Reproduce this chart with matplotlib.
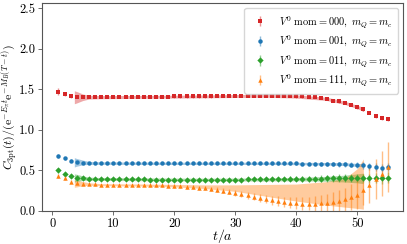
import numpy as np
import matplotlib
matplotlib.use("Agg")
import matplotlib.pyplot as plt

plt.rcParams["font.family"] = "serif"
plt.rcParams["font.serif"] = ["cmr10"]
plt.rcParams["mathtext.fontset"] = "cm"
plt.rcParams["axes.unicode_minus"] = False

# time slices
t = np.arange(1, 56)

# V0 mom = 000
red_y = [1.47, 1.44, 1.42, 1.40, 1.40, 1.40, 1.40, 1.40, 1.40, 1.40,
         1.40, 1.40, 1.40, 1.40, 1.405, 1.405, 1.405, 1.405, 1.405, 1.41,
         1.41, 1.41, 1.41, 1.41, 1.41, 1.41, 1.415, 1.415, 1.415, 1.415,
         1.415, 1.415, 1.42, 1.42, 1.42, 1.42, 1.42, 1.415, 1.415, 1.41,
         1.41, 1.405, 1.40, 1.39, 1.38, 1.36, 1.35, 1.33, 1.31, 1.28,
         1.25, 1.21, 1.17, 1.14, 1.13]
red_err = [0.04, 0.03, 0.025] + [0.015] * 40 + [0.016, 0.017, 0.018, 0.018,
           0.018, 0.018, 0.02, 0.02, 0.02, 0.02, 0.02, 0.02]

# V0 mom = 001
blue_y = [0.68, 0.645, 0.62, 0.605, 0.595, 0.59, 0.588, 0.587, 0.586, 0.586,
          0.585, 0.585, 0.585, 0.585, 0.585, 0.585, 0.585, 0.585, 0.585, 0.585,
          0.585, 0.585, 0.585, 0.585, 0.585, 0.585, 0.585, 0.585, 0.585, 0.585,
          0.585, 0.585, 0.585, 0.585, 0.585, 0.585, 0.585, 0.585, 0.585, 0.584,
          0.583, 0.582, 0.581, 0.58, 0.58, 0.578, 0.576, 0.574, 0.57, 0.566,
          0.56, 0.548, 0.538, 0.532, 0.535]
blue_err = [0.025, 0.02, 0.018] + [0.012] * 30 + [0.013, 0.014, 0.015, 0.016,
            0.017, 0.018, 0.019, 0.02, 0.021, 0.022, 0.024, 0.026, 0.028, 0.03,
            0.032, 0.034, 0.036, 0.04, 0.045, 0.048, 0.05, 0.05]

# V0 mom = 011
green_y = [0.50, 0.455, 0.43, 0.41, 0.40, 0.395, 0.392, 0.39, 0.39, 0.39,
           0.388, 0.388, 0.388, 0.387, 0.387, 0.386, 0.386, 0.385, 0.385, 0.385,
           0.385, 0.385, 0.385, 0.385, 0.385, 0.385, 0.385, 0.385, 0.385, 0.386,
           0.386, 0.387, 0.387, 0.388, 0.389, 0.39, 0.391, 0.392, 0.393, 0.394,
           0.395, 0.396, 0.397, 0.398, 0.40, 0.40, 0.402, 0.404, 0.405, 0.405,
           0.405, 0.40, 0.40, 0.40, 0.41]
green_err = [0.03, 0.025, 0.02] + [0.015] * 17 + [0.016, 0.017, 0.018, 0.018,
             0.019, 0.02, 0.02, 0.021, 0.022, 0.022, 0.023, 0.024, 0.025, 0.026,
             0.027, 0.028, 0.029, 0.03, 0.031, 0.032, 0.034, 0.036, 0.038, 0.04,
             0.042, 0.044, 0.046, 0.048, 0.05, 0.05, 0.055, 0.06, 0.062, 0.064,
             0.065]

# V0 mom = 111
orange_y = [0.43, 0.40, 0.36, 0.345, 0.335, 0.33, 0.325, 0.32, 0.32, 0.32,
            0.32, 0.32, 0.315, 0.315, 0.315, 0.315, 0.315, 0.315, 0.31, 0.305,
            0.30, 0.295, 0.29, 0.285, 0.28, 0.27, 0.26, 0.245, 0.235, 0.22,
            0.205, 0.19, 0.175, 0.16, 0.145, 0.13, 0.12, 0.11, 0.10, 0.095,
            0.09, 0.09, 0.09, 0.095, 0.10, 0.11, 0.125, 0.14, 0.165, 0.20,
            0.26, 0.32, 0.39, 0.46, 0.54]
orange_err = [0.025, 0.025, 0.02] + [0.015] * 12 + [0.016, 0.017, 0.018, 0.019,
              0.02, 0.021, 0.022, 0.023, 0.024, 0.025, 0.027, 0.029, 0.031, 0.033,
              0.035, 0.038, 0.041, 0.044, 0.047, 0.05, 0.054, 0.058, 0.062, 0.066,
              0.07, 0.076, 0.083, 0.09, 0.1, 0.11, 0.12, 0.13, 0.145, 0.16,
              0.175, 0.19, 0.22, 0.25, 0.28, 0.31]

# fit bands (nodes in t, lower / upper edge)
band_t = [3.6, 4, 5, 6, 8, 15, 20, 25, 30, 35, 40, 45, 48, 50, 51]
red_lo = [1.32, 1.33, 1.36, 1.378, 1.382, 1.387, 1.39, 1.393, 1.397, 1.40, 1.39, 1.36, 1.31, 1.26, 1.225]
red_hi = [1.48, 1.47, 1.44, 1.425, 1.42, 1.423, 1.425, 1.428, 1.433, 1.44, 1.43, 1.40, 1.35, 1.30, 1.275]
blue_lo = [0.54, 0.55, 0.568, 0.572, 0.573, 0.572, 0.571, 0.571, 0.571, 0.571, 0.569, 0.565, 0.558, 0.548, 0.542]
blue_hi = [0.655, 0.645, 0.625, 0.608, 0.603, 0.600, 0.599, 0.599, 0.599, 0.599, 0.598, 0.596, 0.592, 0.585, 0.582]
green_lo = [0.355, 0.36, 0.375, 0.377, 0.375, 0.371, 0.369, 0.368, 0.368, 0.368, 0.37, 0.365, 0.355, 0.345, 0.335]
green_hi = [0.455, 0.45, 0.43, 0.415, 0.41, 0.405, 0.403, 0.402, 0.403, 0.405, 0.41, 0.425, 0.44, 0.455, 0.465]
orange_lo = [0.29, 0.295, 0.31, 0.315, 0.31, 0.305, 0.295, 0.275, 0.24, 0.18, 0.12, 0.07, 0.045, 0.03, 0.02]
orange_hi = [0.38, 0.375, 0.36, 0.345, 0.335, 0.33, 0.325, 0.32, 0.32, 0.325, 0.33, 0.36, 0.40, 0.52, 0.64]

labels = [r"$V^0\ \mathrm{mom} = 000,\ m_Q = m_c$",
          r"$V^0\ \mathrm{mom} = 001,\ m_Q = m_c$",
          r"$V^0\ \mathrm{mom} = 011,\ m_Q = m_c$",
          r"$V^0\ \mathrm{mom} = 111,\ m_Q = m_c$"]
colors = ["#d62728", "#1f77b4", "#2ca02c", "#ff7f0e"]
markers = ["s", "o", "D", "^"]

fig = plt.figure(figsize=(4.07, 2.44), dpi=100)
ax = fig.add_axes([0.104, 0.136, 0.887, 0.851])

series = [(red_y, red_err, red_lo, red_hi),
          (blue_y, blue_err, blue_lo, blue_hi),
          (green_y, green_err, green_lo, green_hi),
          (orange_y, orange_err, orange_lo, orange_hi)]

for (y, e, lo, hi), c in zip(series, colors):
    ax.fill_between(band_t, lo, hi, color=c, alpha=0.4, lw=0)

for (y, e, lo, hi), c, m, lab in zip(series, colors, markers, labels):
    ax.errorbar(t, y, yerr=e, fmt=m, color=c, ms=3.2, mew=0,
                ecolor=matplotlib.colors.to_rgba(c, 0.5), elinewidth=1.0,
                capsize=2, capthick=1.0, label=lab)

ax.set_xlim(-1.65, 57.55)
ax.set_ylim(0, 2.56)
ax.set_xticks([0, 10, 20, 30, 40, 50])
ax.set_yticks([0.0, 0.5, 1.0, 1.5, 2.0, 2.5])
ax.tick_params(labelsize=9, length=3, width=0.6, color="#555555", pad=2)
for s in ax.spines.values():
    s.set_color("#555555")
    s.set_linewidth(0.8)
ax.set_xlabel(r"$t/a$", fontsize=10, labelpad=-2)
ax.set_ylabel(r"$C_{3\mathrm{pt}}(t)/(\mathrm{e}^{-E_\pi t}\mathrm{e}^{-M_B(T-t)})$",
              fontsize=8.5, labelpad=-0.5)
ax.legend(loc="upper right", fontsize=7.5, handletextpad=0.8, borderpad=0.5,
          labelspacing=0.35, framealpha=0.8, edgecolor="#cccccc")

fig.savefig("out.png", dpi=100)
